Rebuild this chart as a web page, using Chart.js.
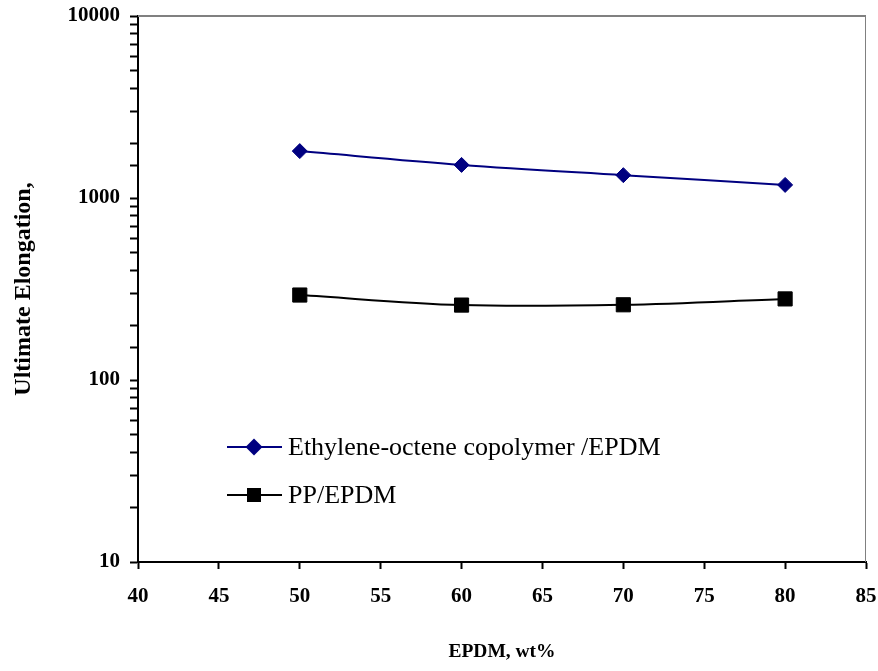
<!DOCTYPE html>
<html>
<head>
<meta charset="utf-8">
<script src="https://cdn.jsdelivr.net/npm/chart.js@4/dist/chart.umd.min.js"></script>
<style>
  html, body { margin: 0; padding: 0; background: #fff; }
  #wrap { width: 878px; height: 671px; position: relative; }
</style>
</head>
<body>
<div id="wrap"><canvas id="c" width="878" height="671"></canvas></div>
<script>
// ---- data ----
const epdmWt = [50, 60, 70, 80];
const ethyleneOcteneValues = [1810, 1520, 1335, 1180];
const ppValues = [293, 258, 259, 279];
const seriesLabels = ['Ethylene-octene copolymer /EPDM', 'PP/EPDM'];
const xTicks = [40, 45, 50, 55, 60, 65, 70, 75, 80, 85];
const yTickLabels = [10, 100, 1000, 10000];
const xTitle = 'EPDM, wt%';
const yTitle = 'Ultimate Elongation,';

const SERIF = '"Liberation Serif", "Times New Roman", serif';

const framePlugin = {
  id: 'frame',
  afterDatasetsDraw(chart) {
    const {ctx, chartArea: a} = chart;
    ctx.save();
    ctx.strokeStyle = '#808080';
    ctx.lineWidth = 2;
    ctx.beginPath();
    ctx.moveTo(a.left, a.top);
    ctx.lineTo(a.right, a.top);
    ctx.stroke();
    ctx.lineWidth = 1;
    ctx.beginPath();
    ctx.moveTo(a.right - 0.5, a.top);
    ctx.lineTo(a.right - 0.5, a.bottom);
    ctx.stroke();
    ctx.restore();
  }
};

const legendPlugin = {
  id: 'insideLegend',
  afterDraw(chart) {
    const {ctx, chartArea: a} = chart;
    ctx.save();
    const x0 = a.left + 89, x1 = a.left + 144, xm = a.left + 116, tx = a.left + 150;
    const rows = [a.top + 431, a.top + 479];
    chart.data.datasets.forEach((ds, i) => {
      const y = rows[i];
      ctx.strokeStyle = ds.borderColor;
      ctx.lineWidth = 2;
      ctx.beginPath();
      ctx.moveTo(x0, y); ctx.lineTo(x1, y); ctx.stroke();
      ctx.fillStyle = ds.pointBackgroundColor;
      ctx.beginPath();
      if (ds.pointStyle === 'rectRot') {
        const r = 8.5;
        ctx.moveTo(xm, y - r); ctx.lineTo(xm + r, y); ctx.lineTo(xm, y + r); ctx.lineTo(xm - r, y); ctx.closePath();
      } else {
        const h = 7;
        ctx.rect(xm - h, y - h, 2 * h, 2 * h);
      }
      ctx.fill();
      ctx.fillStyle = '#000';
      ctx.font = '26px ' + SERIF;
      ctx.textBaseline = 'middle';
      ctx.textAlign = 'left';
      ctx.fillText(ds.label, tx, y + 1);
    });
    ctx.restore();
  }
};

function zeroPad(scale) {
  scale.paddingLeft = 0; scale.paddingRight = 0;
  scale.paddingTop = 0; scale.paddingBottom = 0;
}

new Chart(document.getElementById('c'), {
  type: 'line',
  data: {
    datasets: [
      {
        label: seriesLabels[0],
        data: epdmWt.map((x, i) => ({x, y: ethyleneOcteneValues[i]})),
        borderColor: '#000080',
        backgroundColor: '#000080',
        pointBackgroundColor: '#000080',
        pointBorderColor: '#000080',
        pointStyle: 'rectRot',
        pointRadius: 7.5,
        pointBorderWidth: 1,
        borderWidth: 2,
        tension: 0.35,
        fill: false
      },
      {
        label: seriesLabels[1],
        data: epdmWt.map((x, i) => ({x, y: ppValues[i]})),
        borderColor: '#000000',
        backgroundColor: '#000000',
        pointBackgroundColor: '#000000',
        pointBorderColor: '#000000',
        pointStyle: 'rect',
        pointRadius: 10,
        pointBorderWidth: 1,
        borderWidth: 2,
        tension: 0.35,
        fill: false
      }
    ]
  },
  options: {
    responsive: false,
    animation: false,
    devicePixelRatio: 1,
    layout: { padding: { top: 16, right: 12, left: 0, bottom: 0 } },
    plugins: { legend: { display: false }, tooltip: { enabled: false } },
    scales: {
      x: {
        type: 'linear',
        min: xTicks[0],
        max: xTicks[xTicks.length - 1],
        afterBuildTicks(scale) { scale.ticks = xTicks.map(v => ({value: v})); },
        afterFit(scale) { scale.height = 109; zeroPad(scale); },
        ticks: {
          color: '#000',
          font: { family: SERIF, size: 21, weight: 'bold' },
          padding: 15,
          maxRotation: 0,
          autoSkip: false
        },
        grid: { display: true, drawOnChartArea: false, drawTicks: true, tickLength: 7, color: '#000', tickWidth: 2 },
        border: { display: true, color: '#000', width: 2 },
        title: {
          display: true,
          text: xTitle,
          color: '#000',
          font: { family: SERIF, size: 19.5, weight: 'bold' },
          padding: { top: 8, bottom: 7 }
        }
      },
      y: {
        type: 'logarithmic',
        min: 10,
        max: 10000,
        afterFit(scale) { scale.width = 138; zeroPad(scale); },
        ticks: {
          color: '#000',
          font: { family: SERIF, size: 21, weight: 'bold' },
          padding: 10,
          autoSkip: false,
          callback(value) { return yTickLabels.includes(value) ? String(value) : ''; }
        },
        grid: { display: true, drawOnChartArea: false, drawTicks: true, tickLength: 8, color: '#000', tickWidth: 2 },
        border: { display: true, color: '#000', width: 2 },
        title: {
          display: true,
          text: yTitle,
          color: '#000',
          font: { family: SERIF, size: 24, weight: 'bold' },
          padding: { top: 9, bottom: 0 }
        }
      }
    }
  },
  plugins: [framePlugin, legendPlugin]
});
</script>
</body>
</html>
